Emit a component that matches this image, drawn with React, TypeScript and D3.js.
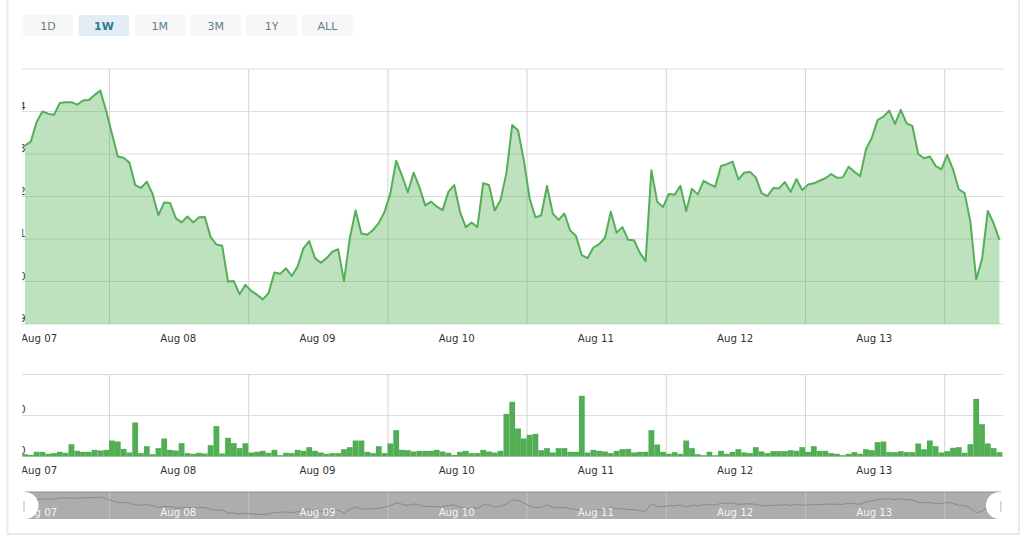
import { useRef, useEffect } from 'react';
import * as d3 from 'd3';

const ranges = ['1D', '1W', '1M', '3M', '1Y', 'ALL'];
const selectedRange = '1W';

const priceTicks = [9, 10, 11, 12, 13, 14, 15];
const volumeTicks = [0, 500, 1000];

// hourly closes
const prices = [
    13.20, 13.29, 13.75, 14.00, 13.95, 13.92, 14.20, 14.22, 14.22, 14.16, 14.26, 14.27, 14.39, 14.49,
    14.01, 13.47, 12.94, 12.91, 12.80, 12.27, 12.20, 12.35, 12.06, 11.56, 11.86, 11.85, 11.49, 11.39,
    11.53, 11.39, 11.51, 11.52, 11.05, 10.87, 10.84, 10.00, 10.01, 9.70, 9.92, 9.78, 9.69, 9.58,
    9.73, 10.21, 10.18, 10.31, 10.13, 10.35, 10.78, 10.95, 10.55, 10.44, 10.55, 10.70, 10.76, 10.01,
    11.02, 11.67, 11.13, 11.10, 11.21, 11.38, 11.64, 12.08, 12.84, 12.49, 12.10, 12.56, 12.22, 11.79,
    11.88, 11.76, 11.68, 12.11, 12.27, 11.64, 11.28, 11.39, 11.28, 12.31, 12.27, 11.67, 11.92, 12.55,
    13.68, 13.56, 12.86, 11.96, 11.51, 11.56, 12.25, 11.60, 11.45, 11.60, 11.20, 11.07, 10.62, 10.55,
    10.80, 10.88, 11.03, 11.64, 11.15, 11.28, 10.98, 10.97, 10.68, 10.48, 12.62, 11.88, 11.75, 12.06,
    12.04, 12.25, 11.66, 12.18, 12.05, 12.37, 12.29, 12.23, 12.72, 12.76, 12.82, 12.40, 12.56, 12.58,
    12.45, 12.08, 12.01, 12.20, 12.19, 12.34, 12.11, 12.41, 12.15, 12.28, 12.31, 12.37, 12.43, 12.53,
    12.44, 12.45, 12.70, 12.58, 12.48, 13.11, 13.38, 13.80, 13.88, 14.02, 13.71, 14.04, 13.72, 13.66,
    13.00, 12.90, 12.94, 12.72, 12.64, 12.98, 12.64, 12.17, 12.08, 11.41, 10.05, 10.52, 11.66, 11.37,
    10.98,
];

const volumes = [
    28, 20, 57, 57, 33, 41, 57, 45, 150, 69, 57, 57, 81, 73, 81, 195, 183, 93, 49, 415, 41, 126, 28, 102,
    220, 81, 73, 163, 41, 33, 45, 37, 138, 370, 37, 228, 163, 102, 163, 49, 57, 69, 45, 81, 16, 45, 41, 81,
    69, 114, 69, 49, 33, 41, 41, 89, 114, 195, 195, 57, 41, 126, 41, 159, 321, 81, 77, 61, 69, 69, 69, 81,
    61, 45, 20, 57, 69, 41, 41, 81, 61, 49, 69, 520, 667, 341, 220, 264, 276, 77, 102, 49, 102, 102, 57, 57,
    740, 49, 81, 69, 61, 41, 69, 89, 93, 49, 57, 57, 321, 146, 57, 33, 53, 33, 195, 102, 28, 16, 57, 16,
    69, 33, 57, 89, 49, 41, 114, 61, 41, 65, 65, 65, 77, 69, 114, 57, 126, 69, 69, 41, 33, 16, 33, 53,
    33, 89, 77, 175, 183, 53, 53, 65, 53, 53, 159, 89, 195, 126, 49, 65, 106, 114, 45, 150, 703, 394, 159, 102,
    53,
];

const startTime = new Date(2018, 7, 7, 9, 26);
const endTime = new Date(2018, 7, 14, 9, 26);
const times = prices.map((_, i) => d3.timeHour.offset(startTime, i));

const font = '"DejaVu Sans", sans-serif';

export default function App() {
    const svgRef = useRef<SVGSVGElement>(null);

    useEffect(() => {
        if (!svgRef.current) return;

        const svg = d3.select(svgRef.current);
        svg.selectAll('*').remove();

        const x = d3.scaleTime().domain([startTime, endTime]).range([25, 999.4]);
        const yPrice = d3.scaleLinear().domain([9, 15]).range([324, 69]);
        const yVolume = d3.scaleLinear().domain([0, 1000]).range([456.5, 374.5]);
        const yNav = d3.scaleLinear().domain([9, 15]).range([516.6, 495.2]);

        const gridDays = d3.timeDay.range(d3.timeDay.ceil(startTime), endTime);
        // no label for the last, unfinished day
        const labelDays = d3.timeDay.range(d3.timeDay.floor(startTime), endTime)
            .map(d => d3.timeHour.offset(d, 12))
            .filter(d => d < endTime);
        const dayFormat = d3.timeFormat('%b %d') as (d: Date | d3.NumberValue) => string;

        // labels are cut off at the left edge of the plot, same as the screenshot
        const defs = svg.append('defs');
        defs.append('clipPath').attr('id', 'label-clip').append('rect')
            .attr('x', 22.3).attr('y', 0).attr('width', 1002).attr('height', 542);

        // Outer frame
        svg.append('rect')
            .attr('x', 7.5).attr('y', -10)
            .attr('width', 1011.5).attr('height', 544)
            .attr('fill', 'white')
            .attr('stroke', '#e6ebf3')
            .attr('stroke-width', 2);

        // Range buttons
        const buttonScale = d3.scaleBand()
            .domain(ranges)
            .range([22.7, 352.8])
            .paddingInner(0.095)
            .paddingOuter(0);
        const buttons = svg.append('g').selectAll('g').data(ranges).enter().append('g');
        buttons.append('rect')
            .attr('x', d => buttonScale(d) ?? 0)
            .attr('y', 15)
            .attr('width', buttonScale.bandwidth())
            .attr('height', 21)
            .attr('fill', d => d === selectedRange ? '#e4edf6' : '#f7f7f7');
        buttons.append('text')
            .attr('x', d => (buttonScale(d) ?? 0) + buttonScale.bandwidth() / 2)
            .attr('y', 30)
            .attr('text-anchor', 'middle')
            .attr('font-family', font)
            .attr('font-size', '11px')
            .attr('font-weight', d => d === selectedRange ? '700' : '400')
            .attr('fill', d => d === selectedRange ? '#2f7c8c' : '#62808a')
            .text(d => d);

        const drawGrid = (scale: d3.ScaleLinear<number, number>, ticks: number[]) => {
            const [bottom, top] = scale.range();
            const grid = svg.append('g');
            grid.selectAll('line.h').data(ticks).enter().append('line')
                .attr('class', 'h')
                .attr('x1', 22).attr('x2', 1003)
                .attr('y1', d => scale(d)).attr('y2', d => scale(d))
                .attr('stroke', '#dcdcdc');
            grid.selectAll('line.v').data(gridDays).enter().append('line')
                .attr('class', 'v')
                .attr('x1', d => x(d)).attr('x2', d => x(d))
                .attr('y1', top).attr('y2', bottom)
                .attr('stroke', '#d4d4d4');
        };

        const drawAxes = (
            scale: d3.ScaleLinear<number, number>,
            ticks: number[],
            padding: number,
            lift: number,
        ) => {
            const bottom = scale.range()[0];
            const xAxis = d3.axisBottom(x)
                .tickValues(labelDays)
                .tickSize(0)
                .tickPadding(padding)
                .tickFormat(dayFormat);
            const xg = svg.append('g')
                .attr('clip-path', 'url(#label-clip)')
                .append('g')
                .attr('transform', `translate(0,${bottom})`)
                .call(xAxis);
            xg.select('.domain').remove();
            xg.selectAll('text')
                .attr('font-family', font)
                .attr('font-size', '10.2px')
                .attr('dx', -1.3)
                .attr('fill', '#333');

            const yAxis = d3.axisLeft(scale)
                .tickValues(ticks.slice(0, -1))
                .tickSize(0)
                .tickPadding(0)
                .tickFormat(d3.format('d'));
            const yg = svg.append('g')
                .attr('clip-path', 'url(#label-clip)')
                .append('g')
                .attr('transform', 'translate(25.5,0)')
                .call(yAxis);
            yg.select('.domain').remove();
            yg.selectAll('text')
                .attr('font-family', font)
                .attr('font-size', '10px')
                .attr('fill', '#333')
                .attr('dy', `${0.32 - lift / 10}em`);
        };

        // Price panel
        drawGrid(yPrice, priceTicks);

        const area = d3.area<number>()
            .x((_, i) => x(times[i]))
            .y0(yPrice(9))
            .y1(d => yPrice(d));
        const line = d3.line<number>()
            .x((_, i) => x(times[i]))
            .y(d => yPrice(d));

        svg.append('path')
            .attr('d', area(prices))
            .attr('fill', 'rgb(85,176,85)')
            .attr('fill-opacity', 0.38);
        svg.append('path')
            .attr('d', line(prices))
            .attr('fill', 'none')
            .attr('stroke', '#55ae58')
            .attr('stroke-width', 2)
            .attr('stroke-linejoin', 'round');

        drawAxes(yPrice, priceTicks, 10.8, 5.5);

        // Volume panel
        drawGrid(yVolume, volumeTicks);

        const barWidth = x(times[1]) - x(times[0]);
        svg.append('g').selectAll('rect').data(volumes).enter().append('rect')
            .attr('x', (_, i) => x(times[i]) - barWidth / 2)
            .attr('y', d => yVolume(d))
            .attr('width', barWidth)
            .attr('height', d => yVolume(0) - yVolume(d))
            .attr('fill', '#52ae55');

        drawAxes(yVolume, volumeTicks, 10.3, 6);

        // Navigator
        svg.append('rect')
            .attr('x', 25).attr('y', 492)
            .attr('width', 976).attr('height', 27)
            .attr('fill', '#adadad');
        svg.append('line')
            .attr('x1', 25).attr('x2', 1001)
            .attr('y1', 492).attr('y2', 492)
            .attr('stroke', '#8e8e8e')
            .attr('stroke-width', 1.2);
        svg.append('g').selectAll('line').data(gridDays).enter().append('line')
            .attr('x1', d => x(d)).attr('x2', d => x(d))
            .attr('y1', 492).attr('y2', 519)
            .attr('stroke', 'white')
            .attr('stroke-opacity', 0.25);

        const navLine = d3.line<number>()
            .x((_, i) => x(times[i]))
            .y(d => yNav(d));
        svg.append('path')
            .attr('d', navLine(prices))
            .attr('fill', 'none')
            .attr('stroke', '#8a8a8a')
            .attr('stroke-width', 1);

        const navAxis = d3.axisBottom(x)
            .tickValues(labelDays)
            .tickSize(0)
            .tickPadding(17.3)
            .tickFormat(dayFormat);
        const navG = svg.append('g')
            .attr('transform', 'translate(0,491.5)')
            .call(navAxis);
        navG.select('.domain').remove();
        navG.selectAll('text')
            .attr('font-family', font)
            .attr('font-size', '10.2px')
            .attr('dx', -1.3)
            .attr('fill', 'white')
            .attr('fill-opacity', 0.9);

        // Navigator handles
        defs.append('clipPath').attr('id', 'handle-clip').append('rect')
            .attr('x', 23).attr('y', 485).attr('width', 979).attr('height', 45);
        const handles = svg.append('g').attr('clip-path', 'url(#handle-clip)');
        handles.selectAll('circle').data([startTime, endTime]).enter().append('circle')
            .attr('cx', d => x(d))
            .attr('cy', 505.5)
            .attr('r', 13.5)
            .attr('fill', 'white');
        handles.selectAll('line').data([startTime, endTime]).enter().append('line')
            .attr('x1', d => x(d) + (d === startTime ? -1 : 1.5))
            .attr('x2', d => x(d) + (d === startTime ? -1 : 1.5))
            .attr('y1', 501).attr('y2', 512)
            .attr('stroke', '#b5b5b5');
    }, []);

    return (
        <svg
            ref={svgRef}
            width={1024}
            height={542}
            style={{ position: 'absolute', left: 0, top: 0, display: 'block' }}
        />
    );
}
